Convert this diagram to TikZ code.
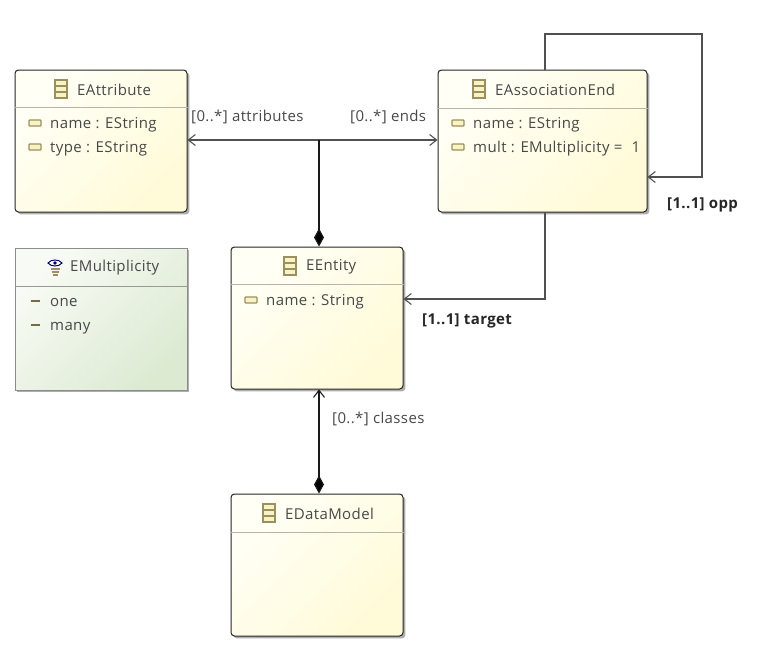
\documentclass[tikz,border=0pt]{standalone}
\usepackage{fontspec}
\setmainfont{Open Sans}[LetterSpace=2.5]
\usetikzlibrary{arrows.meta,calc}
\definecolor{txt}{HTML}{484848}
\definecolor{iconb}{HTML}{9C8F5E}
\definecolor{iconf}{HTML}{F8F3C4}
\definecolor{sep}{HTML}{B5B5A8}
\definecolor{linecol}{HTML}{505050}
\definecolor{yA}{HTML}{FFFBD8}
\definecolor{yB}{HTML}{FFFFF6}
\definecolor{gA}{HTML}{DCEAD2}
\definecolor{gB}{HTML}{F8FBF5}
\pgfdeclareverticalshading{classgrad}{100bp}{color(0bp)=(yA); color(25bp)=(yA); color(75bp)=(yB); color(100bp)=(yB)}
\pgfdeclareverticalshading{enumgrad}{100bp}{color(0bp)=(gA); color(25bp)=(gA); color(75bp)=(gB); color(100bp)=(gB)}
\tikzset{
  x=1pt,y=-1pt,
  every node/.style={font=\fontsize{15}{17}\selectfont,text=txt,inner sep=0pt},
  boxshadow/.style={preaction={fill=black!32,transform canvas={xshift=2.4pt,yshift=-2.4pt}}},
  classbox/.style={rounded corners=3.5pt,minimum width=172pt,minimum height=142pt,draw=black!85,line width=1pt,
    boxshadow,shading=classgrad,shading angle=45},
  enumbox/.style={minimum width=172pt,minimum height=142pt,draw=black!45,line width=1pt,
    boxshadow,shading=enumgrad,shading angle=45},
  attrtext/.style={anchor=west,yshift=-1.5pt},
  titletext/.style={anchor=west,yshift=-.5pt},
  conn/.style={draw=linecol,line width=1.1pt},
  strongconn/.style={draw=black!90,line width=1.2pt},
  opentip/.style={-{Straight Barb[length=7pt,width=11pt,line width=1.1pt]}},
  compo/.style={{Diamond[length=18pt,width=10pt,fill=black]}-{Straight Barb[length=7pt,width=11pt,line width=1.1pt]}},
  compotop/.style={-{Diamond[length=18pt,width=10pt,fill=black]}},
  boldlabel/.style={anchor=west,yshift=-1pt,font=\fontsize{15}{17}\selectfont\bfseries,text=black!85},
}
\newcommand{\classicon}[2]{%
  \draw[iconb,fill=iconf,line width=1.2pt] (#1-6,#2-9) rectangle (#1+6,#2+9);
  \draw[iconb,line width=1.2pt] (#1-6,#2-3) -- (#1+6,#2-3) (#1-6,#2+3) -- (#1+6,#2+3);}
\newcommand{\attricon}[2]{%
  \draw[iconb,fill=iconf,line width=1.3pt,rounded corners=.8pt] (#1-6,#2-3) rectangle (#1+6,#2+3);}
\newcommand{\liticon}[2]{%
  \draw[iconb!75!black,line width=2pt] (#1-4.5,#2) -- (#1+4.5,#2);}
\begin{document}
\begin{tikzpicture}
\useasboundingbox (0,0) rectangle (774,656);
% boxes
\node[classbox] (attr) at (101,141) {};
\node[classbox,minimum width=209pt] (assoc) at (542.5,141) {};
\node[classbox] (entity) at (317,318) {};
\node[classbox] (model) at (317,565) {};
\node[enumbox] (mult) at (101,319) {};
% separators
\draw[sep,line width=1pt] (attr.west |- 0,107) -- (attr.east |- 0,107);
\draw[sep,line width=1pt] (assoc.west |- 0,108) -- (assoc.east |- 0,108);
\draw[sep,line width=1pt] (entity.west |- 0,284) -- (entity.east |- 0,284);
\draw[sep,line width=1pt] (model.west |- 0,532) -- (model.east |- 0,532);
\draw[black!40,line width=1pt] (mult.west |- 0,286) -- (mult.east |- 0,286);
% class titles
\classicon{61}{89}
\node[titletext] (tattr) at (77,89) {EAttribute};
\classicon{479}{89}
\node[titletext] (tassoc) at (495,89) {EAssociationEnd};
\classicon{290}{266}
\node[titletext] (tentity) at (306,266) {EEntity};
\classicon{269}{513}
\node[titletext] (tmodel) at (285,513) {EDataModel};
% enum title icon
\draw[blue!45!black,fill=white,line width=1pt] (48,263) .. controls (51,259) and (59,259) .. (62,263) .. controls (59,267) and (51,267) .. (48,263) -- cycle;
\fill[blue!45!black] (55,263) circle (1.8);
\draw[iconb,line width=1.3pt] (50.5,269) -- (59.5,269) (51.5,272) -- (58.5,272) (52.5,275) -- (57.5,275);
\node[titletext] (tmult) at (70,267) {EMultiplicity};
% attributes
\attricon{35}{123}
\node[attrtext] (a1) at (50,123) {name : EString};
\attricon{35}{147}
\node[attrtext] (a2) at (50,147) {type : EString};
\attricon{458}{123}
\node[attrtext] (b1) at (473,123) {name : EString};
\attricon{458}{147}
\node[attrtext] (b2) at (473,147) {mult : EMultiplicity =\hspace{5pt} 1};
\attricon{251}{300}
\node[attrtext] (c1) at (266,300) {name : String};
\liticon{35}{301}
\node[attrtext] (d1) at (50,301) {one};
\liticon{35}{325}
\node[attrtext] (d2) at (50,326.5) {many};
% connectors
\coordinate (j) at (319,140);
\draw[conn,opentip] (j) -- (attr.east |- j);
\draw[conn,opentip] (j) -- (assoc.west |- j);
\draw[strongconn,compotop] (j) -- (j |- entity.north);
\draw[strongconn,compo] (j |- model.north) -- (j |- entity.south);
\coordinate (sa) at (545,34);
\coordinate (sb) at (702,177);
\draw[conn,opentip] (sa |- assoc.north) -- (sa) -| (sb) -- (assoc.east |- sb);
\coordinate (tg) at (545,299);
\draw[conn,opentip] (tg |- assoc.south) -- (tg) -- (entity.east |- tg);
% labels
\node[attrtext] (l1) at (191,115) {[0..*] attributes};
\node[attrtext] (l2) at (350,115) {[0..*] ends};
\node[attrtext] (l3) at (332,417) {[0..*] classes};
\node[boldlabel] (l4) at (667,204) {[1..1] opp};
\node[boldlabel] (l5) at (422,320) {[1..1] target};
\end{tikzpicture}
\end{document}
